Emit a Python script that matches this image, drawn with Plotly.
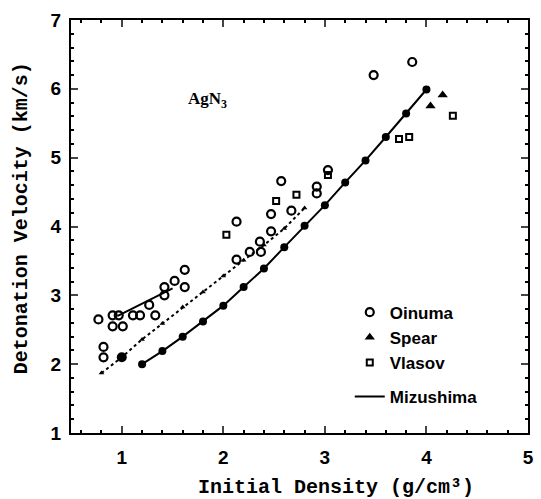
import plotly.graph_objects as go

# Mizushima calculated curve
miz_x = [1.2, 1.4, 1.6, 1.8, 2.0, 2.2, 2.4, 2.6, 2.8, 3.0, 3.2, 3.4, 3.6, 3.8, 4.0]
miz_y = [2.00, 2.19, 2.40, 2.62, 2.85, 3.12, 3.39, 3.70, 4.01, 4.31, 4.64, 4.96, 5.30, 5.64, 5.99]

# dotted fit line with small triangles
dot_x = [0.8, 1.0, 1.2, 1.4, 1.6, 1.8, 2.0, 2.2, 2.4, 2.6, 2.8]
dot_y = [1.87, 2.10, 2.36, 2.59, 2.83, 3.05, 3.28, 3.51, 3.73, 3.97, 4.27]

# short solid line at low density
short_x = [0.96, 1.50]
short_y = [2.70, 3.10]

oinuma_x = [0.77, 0.91, 0.97, 0.91, 1.01, 1.11, 1.18, 1.27, 1.33, 1.42, 1.42, 1.52, 1.62, 1.62,
            0.82, 0.82, 2.13, 2.13, 2.26, 2.36, 2.37, 2.47, 2.47, 2.57, 2.67, 2.92, 2.92, 3.03,
            3.48, 3.86]
oinuma_y = [2.65, 2.71, 2.71, 2.55, 2.55, 2.71, 2.71, 2.86, 2.71, 3.00, 3.12, 3.21, 3.37, 3.12,
            2.25, 2.10, 4.07, 3.52, 3.63, 3.78, 3.63, 3.93, 4.18, 4.66, 4.23, 4.58, 4.48, 4.82,
            6.20, 6.39]

spear_x = [4.04, 4.16]
spear_y = [5.75, 5.91]

vlasov_x = [2.03, 2.52, 2.72, 3.03, 3.73, 3.83, 4.26]
vlasov_y = [3.88, 4.37, 4.46, 4.75, 5.27, 5.30, 5.61]

tick_font = dict(family="Liberation Sans Narrow, Liberation Sans", size=19, color="black", weight="bold")
title_font = dict(family="Liberation Mono, DejaVu Sans Mono", size=20, color="black", weight="bold")

fig = go.Figure()

fig.add_trace(go.Scatter(
    x=dot_x, y=dot_y, mode="lines+markers", showlegend=False,
    line=dict(color="black", width=2, dash="dot"),
    marker=dict(symbol="triangle-up", size=5, color="black")))

fig.add_trace(go.Scatter(
    x=[1.0], y=[2.10], mode="markers", showlegend=False,
    marker=dict(symbol="circle", size=10, color="black")))

fig.add_trace(go.Scatter(
    x=short_x, y=short_y, mode="lines", showlegend=False,
    line=dict(color="black", width=2)))

fig.add_trace(go.Scatter(
    x=oinuma_x, y=oinuma_y, mode="markers", name="Oinuma", legendgroup="a",
    marker=dict(symbol="circle-open", size=8, color="black", line=dict(width=2.2))))

fig.add_trace(go.Scatter(
    x=spear_x, y=spear_y, mode="markers", name="Spear", legendgroup="a",
    marker=dict(symbol="triangle-up", size=9, color="black")))

fig.add_trace(go.Scatter(
    x=vlasov_x, y=vlasov_y, mode="markers", name="Vlasov", legendgroup="a",
    marker=dict(symbol="square-open", size=6, color="black", line=dict(width=2))))

fig.add_trace(go.Scatter(
    x=miz_x, y=miz_y, mode="lines", name="Mizushima", legendgroup="b",
    line=dict(color="black", width=2)))

fig.add_trace(go.Scatter(
    x=miz_x, y=miz_y, mode="markers", showlegend=False,
    marker=dict(symbol="circle", size=8, color="black")))

fig.add_annotation(
    x=1.84, y=5.84, text="AgN<sub>3</sub>", showarrow=False,
    font=dict(family="Liberation Serif", size=17, color="black", weight="bold"))

# axis titles placed as annotations to match the original offsets
fig.add_annotation(
    x=0.579, y=0, xref="paper", yref="paper", yanchor="middle", yshift=-54,
    text="Initial Density (g/cm³)", showarrow=False, font=title_font)
fig.add_annotation(
    x=0, y=0.52, xref="paper", yref="paper", xanchor="center", xshift=-50,
    text="Detonation Velocity (km/s)", textangle=-90, showarrow=False, font=title_font)

fig.update_layout(
    width=541, height=499,
    margin=dict(l=71, r=7, t=20, b=66),
    plot_bgcolor="white", paper_bgcolor="white",
    legend=dict(
        x=0.61, y=0.335, xanchor="left", yanchor="top",
        bgcolor="rgba(0,0,0,0)", traceorder="grouped", tracegroupgap=9,
        font=dict(family="Liberation Sans, Arial", size=17, color="black", weight="bold")),
    xaxis=dict(
        range=[0.5, 5], tickvals=[1, 2, 3, 4, 5], ticks="inside", ticklen=7, tickwidth=2,
        minor=dict(dtick=0.2, tick0=0, ticks="inside", ticklen=3, tickcolor="black"),
        showline=True, linecolor="black", linewidth=2, mirror="ticks",
        showgrid=False, zeroline=False, tickfont=tick_font, ticklabelstandoff=6),
    yaxis=dict(
        range=[1, 7], tickvals=[1, 2, 3, 4, 5, 6, 7], ticks="inside", ticklen=7, tickwidth=2,
        minor=dict(dtick=0.2, tick0=0, ticks="inside", ticklen=3, tickcolor="black"),
        showline=True, linecolor="black", linewidth=2, mirror="ticks",
        showgrid=False, zeroline=False, tickfont=tick_font, ticklabelstandoff=4),
)

fig.write_html("out.html", config={"displayModeBar": False},
               post_script="document.body.style.margin='0';")
